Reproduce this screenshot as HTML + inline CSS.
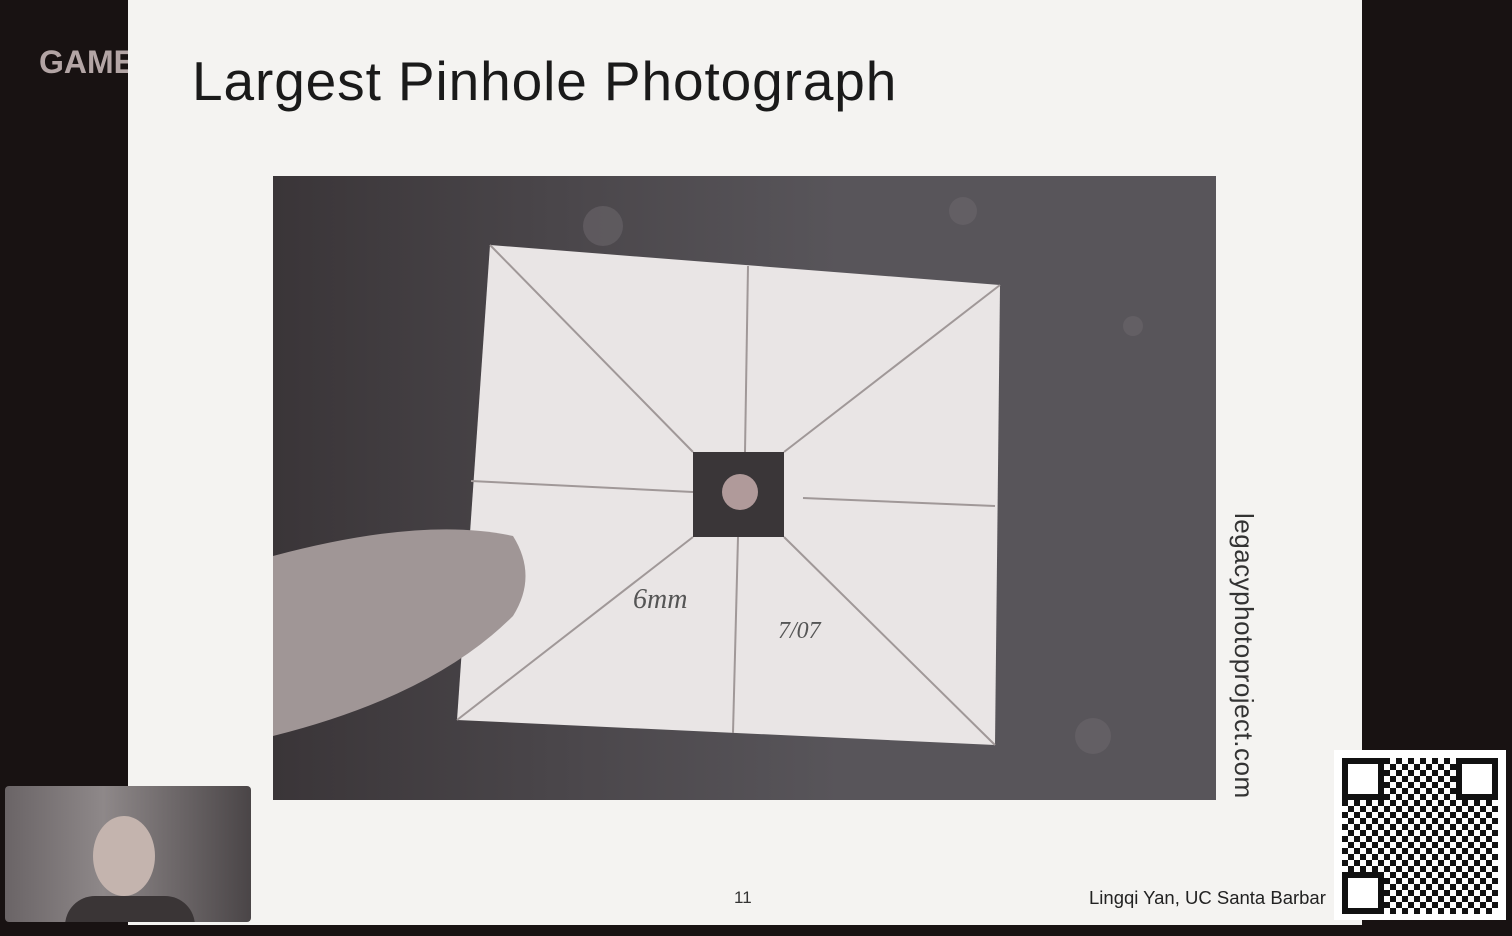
<!DOCTYPE html>
<html><head><meta charset="utf-8"><style>
body{margin:0;width:1512px;height:936px;background:#181212;position:relative;overflow:hidden;font-family:"Liberation Sans",sans-serif}
.abs{position:absolute}
</style></head><body>
<div class="abs" style="left:39px;top:44px;font-size:32px;font-weight:bold;color:#b3a5a5">GAME</div>
<div class="abs" style="left:128px;top:0;width:1234px;height:925px;background:#f4f3f1"></div>
<div class="abs" style="left:192px;top:49px;font-size:55px;color:#1a1a1a;letter-spacing:0.9px">Largest Pinhole Photograph</div>
<svg class="abs" style="left:273px;top:176px" width="943" height="624" viewBox="0 0 943 624">
<defs><linearGradient id="g" x1="0" x2="1" y1="0" y2="0"><stop offset="0" stop-color="#3a3538"/><stop offset="0.3" stop-color="#4a464a"/><stop offset="0.6" stop-color="#58555a"/></linearGradient></defs>
<rect width="943" height="624" fill="url(#g)"/>
<g fill="#6a666b" opacity="0.6"><circle cx="690" cy="35" r="14"/><circle cx="860" cy="150" r="10"/><circle cx="820" cy="560" r="18"/><circle cx="330" cy="50" r="20"/></g>
<polygon points="217,69 727,109 722,569 184,544" fill="#e9e5e5"/>
<g stroke="#a09898" stroke-width="2" fill="none">
<line x1="217" y1="69" x2="420" y2="276"/><line x1="727" y1="109" x2="511" y2="276"/>
<line x1="184" y1="544" x2="420" y2="361"/><line x1="722" y1="569" x2="511" y2="361"/>
<line x1="475" y1="90" x2="472" y2="276"/><line x1="465" y1="361" x2="460" y2="557"/>
<line x1="198" y1="305" x2="420" y2="316"/><line x1="530" y1="322" x2="722" y2="330"/>
</g>
<rect x="420" y="276" width="91" height="85" fill="#3a3638"/>
<circle cx="467" cy="316" r="18" fill="#b09a9a"/>
<path d="M0 380 Q150 340 240 360 Q265 400 240 440 Q160 520 0 560Z" fill="#a09696"/>
<text x="360" y="432" font-family="Liberation Serif" font-style="italic" font-size="28" fill="#555">6mm</text>
<text x="505" y="462" font-family="Liberation Serif" font-style="italic" font-size="24" fill="#555">7/07</text>
</svg>
<div class="abs" style="left:1228px;top:513px;font-size:26px;color:#333;writing-mode:vertical-rl;letter-spacing:0.5px">legacyphotoproject.com</div>
<div class="abs" style="left:734px;top:888px;font-size:17px;color:#333">11</div>
<div class="abs" style="left:1089px;top:887px;font-size:18.5px;color:#222">Lingqi Yan, UC Santa Barbar</div>
<div class="abs" style="left:1334px;top:750px;width:172px;height:170px;background:#fff">
<div style="position:absolute;left:8px;top:8px;width:156px;height:156px;background:repeating-conic-gradient(#111 0 25%,#fff 0 50%) 0 0/12px 12px"></div>
<div style="position:absolute;left:8px;top:8px;width:30px;height:30px;border:6px solid #111;background:#fff"></div>
<div style="position:absolute;left:122px;top:8px;width:30px;height:30px;border:6px solid #111;background:#fff"></div>
<div style="position:absolute;left:8px;top:122px;width:30px;height:30px;border:6px solid #111;background:#fff"></div>
</div>
<div class="abs" style="left:5px;top:786px;width:246px;height:136px;background:linear-gradient(90deg,#6a6466,#8e8889 40%,#4a4547);border-radius:4px;overflow:hidden">
<div style="position:absolute;left:88px;top:30px;width:62px;height:80px;border-radius:50%;background:#c4b4ae"></div>
<div style="position:absolute;left:60px;top:110px;width:130px;height:30px;border-radius:40px 40px 0 0;background:#3a3536"></div>
</div>
</body></html>
